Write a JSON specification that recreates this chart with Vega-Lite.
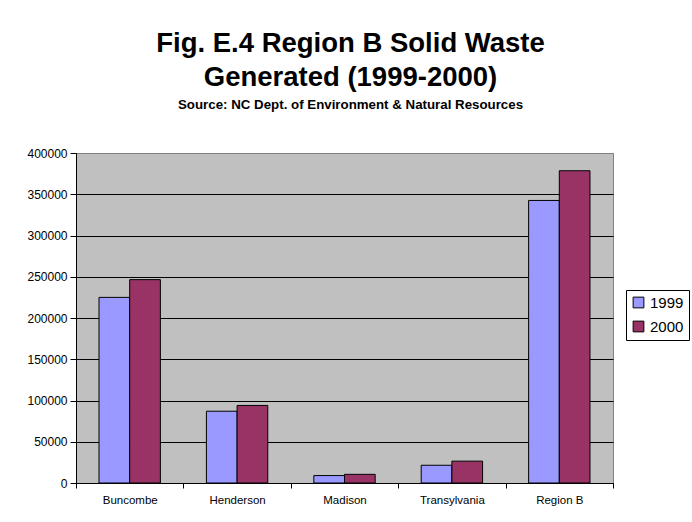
{
  "$schema": "https://vega.github.io/schema/vega-lite/v6.json",
  "autosize": {"type": "none"},
  "padding": {"left": 76, "top": 153, "right": 79, "bottom": 39},
  "width": 537,
  "height": 330,
  "background": "white",
  "title": {
    "text": ["Fig. E.4 Region B Solid Waste", "Generated (1999-2000)"],
    "subtitle": "Source: NC Dept. of Environment & Natural Resources",
    "anchor": "middle",
    "frame": "group",
    "dx": 6,
    "offset": 36,
    "font": "Liberation Sans",
    "fontSize": 27.5,
    "fontWeight": "bold",
    "lineHeight": 34,
    "color": "black",
    "subtitleFont": "Liberation Sans",
    "subtitleFontSize": 13.3,
    "subtitleFontWeight": "bold",
    "subtitleColor": "black",
    "subtitlePadding": 6
  },
  "data": {
    "values": [
      {"county": "Buncombe", "year": "1999", "tons": 225000},
      {"county": "Buncombe", "year": "2000", "tons": 246500},
      {"county": "Henderson", "year": "1999", "tons": 87000},
      {"county": "Henderson", "year": "2000", "tons": 94000},
      {"county": "Madison", "year": "1999", "tons": 9000},
      {"county": "Madison", "year": "2000", "tons": 10500},
      {"county": "Transylvania", "year": "1999", "tons": 21500},
      {"county": "Transylvania", "year": "2000", "tons": 26500},
      {"county": "Region B", "year": "1999", "tons": 342500},
      {"county": "Region B", "year": "2000", "tons": 378500}
    ]
  },
  "mark": {"type": "bar", "stroke": "black", "strokeWidth": 1},
  "encoding": {
    "x": {
      "field": "county",
      "type": "nominal",
      "sort": ["Buncombe", "Henderson", "Madison", "Transylvania", "Region B"],
      "scale": {"paddingInner": 0, "paddingOuter": 0},
      "axis": {
        "title": null,
        "labelAngle": 0,
        "tickBand": "extent",
        "tickSize": 5,
        "tickColor": "black",
        "domainColor": "black",
        "labelPadding": 6,
        "labelFont": "Liberation Sans",
        "labelFontSize": 11.5,
        "labelColor": "black",
        "grid": false
      }
    },
    "xOffset": {
      "field": "year",
      "type": "nominal",
      "scale": {"paddingInner": 0, "paddingOuter": 0.75}
    },
    "y": {
      "field": "tons",
      "type": "quantitative",
      "scale": {"domain": [0, 400000], "nice": false},
      "axis": {
        "title": null,
        "values": [0, 50000, 100000, 150000, 200000, 250000, 300000, 350000, 400000],
        "format": "d",
        "tickSize": 6,
        "tickColor": "black",
        "domainColor": "black",
        "labelPadding": 3,
        "labelFont": "Liberation Sans",
        "labelFontSize": 12,
        "labelColor": "black",
        "grid": true,
        "gridColor": {"condition": {"test": "datum.value === 400000", "value": "#808080"}, "value": "black"},
        "gridWidth": 1,
        "gridOpacity": 1
      }
    },
    "color": {
      "field": "year",
      "type": "nominal",
      "scale": {"domain": ["1999", "2000"], "range": ["#9999FF", "#993366"]},
      "legend": {
        "title": null,
        "orient": "none",
        "legendX": 550,
        "legendY": 137,
        "fillColor": "white",
        "strokeColor": "black",
        "padding": 5,
        "symbolType": "square",
        "symbolSize": 115,
        "symbolStrokeColor": "black",
        "symbolStrokeWidth": 1,
        "symbolOpacity": 1,
        "labelFont": "Liberation Sans",
        "labelFontSize": 15,
        "labelColor": "black",
        "labelOffset": 4,
        "rowPadding": 8
      }
    }
  },
  "config": {
    "view": {"fill": "#C0C0C0", "stroke": "#808080", "strokeWidth": 1}
  }
}
